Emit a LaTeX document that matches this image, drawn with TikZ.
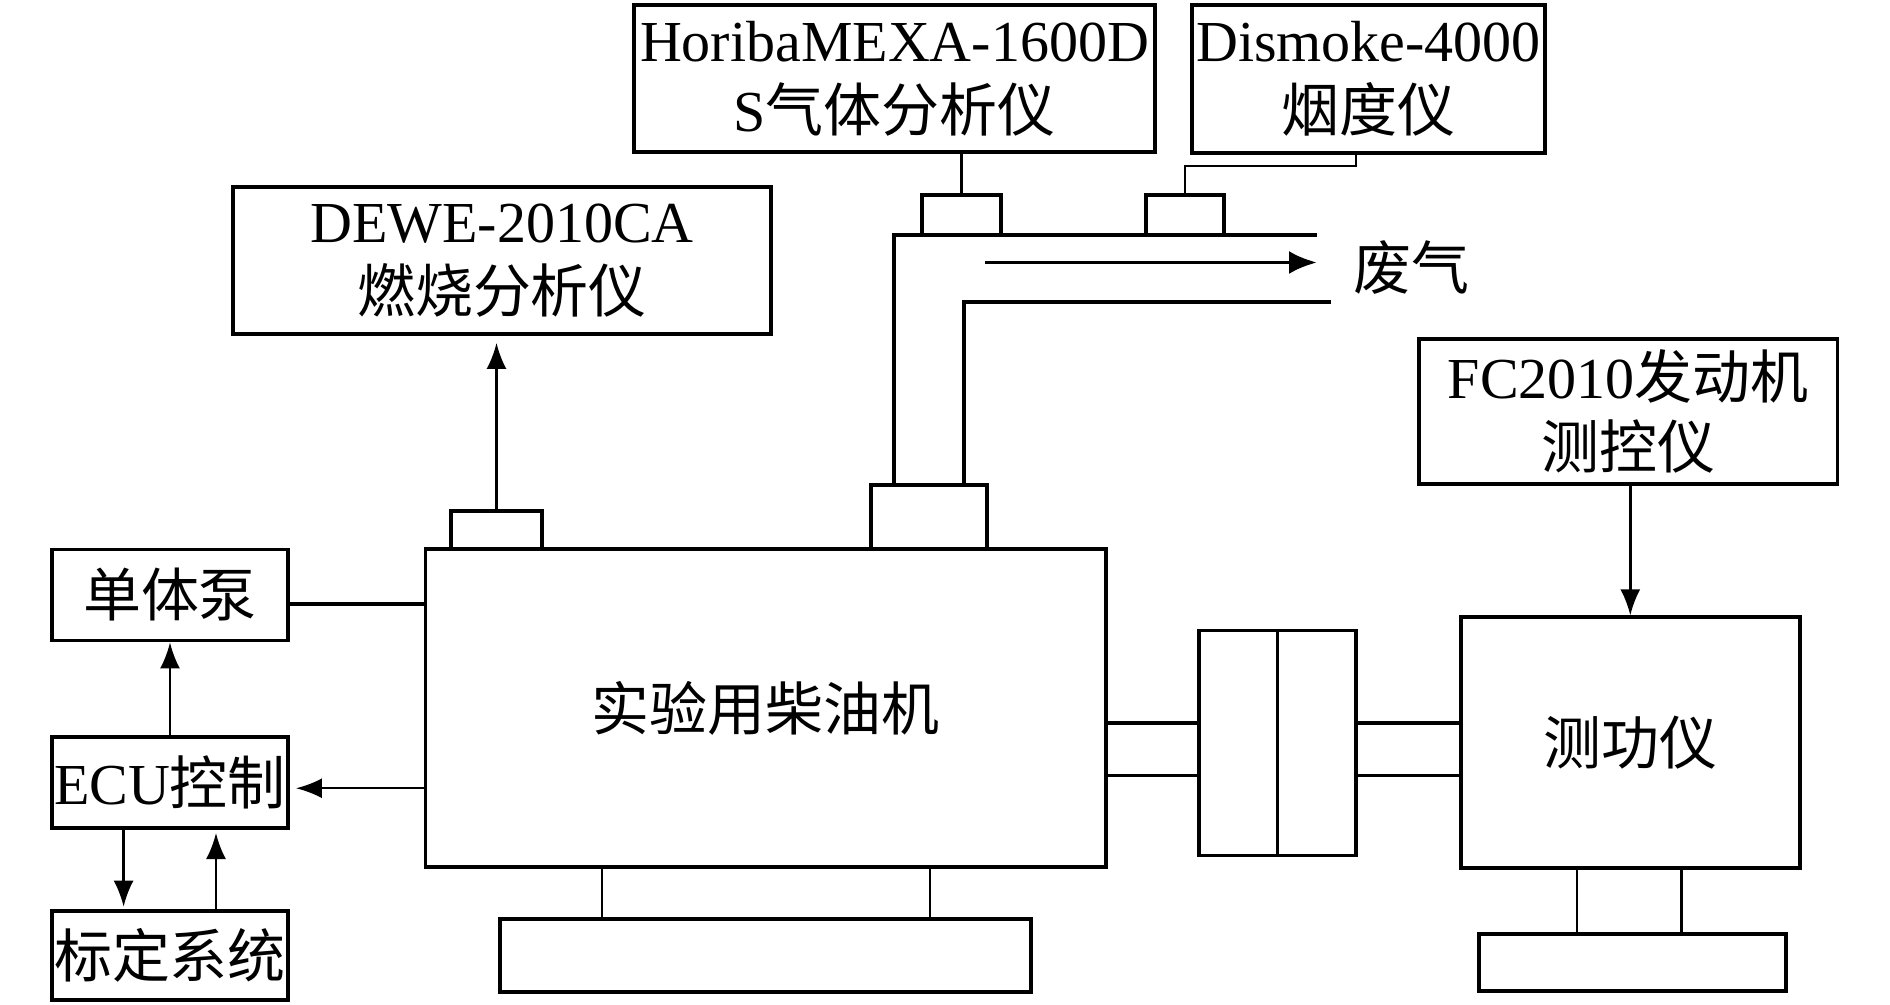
\documentclass[tikz,border=0pt]{standalone}
\usepackage{fontspec}
\setmainfont{Liberation Serif}
\newfontfamily\zhfont{Noto Sans CJK SC}
\newcommand{\zh}[1]{{\zhfont #1}}
\usepackage{tikz}
\usetikzlibrary{calc, arrows.meta, positioning}

\begin{document}
\begin{tikzpicture}[>=Latex, font=\fontsize{16.5}{20}\selectfont]
    \tikzstyle{box} = [rectangle, draw, line width=1.1pt, inner sep=0pt, align=center]
    \tikzstyle{part} = [rectangle, draw, line width=1.1pt, inner sep=0pt]
    \tikzstyle{line} = [draw, line width=0.7pt]
    \tikzstyle{wall} = [draw, line width=1.1pt]
    \tikzstyle{arrow} = [draw, line width=0.7pt, -{Latex[length=0.26cm, width=0.2cm]}]
    \tikzstyle{flow} = [draw, line width=1.1pt, -{Latex[length=0.28cm, width=0.23cm]}]

    \useasboundingbox (0,0) rectangle (18.9,10.04);

    \node [box, minimum width=5.21cm, minimum height=1.47cm] (horiba) at (8.945,9.255) {HoribaMEXA-1600D\\S\zh{气体分析仪}};
    \node [box, minimum width=3.53cm, minimum height=1.48cm] (smoke) at (13.685,9.25) {Dismoke-4000\\\zh{烟度仪}};
    \node [box, minimum width=5.38cm, minimum height=1.47cm] (dewe) at (5.02,7.435) {DEWE-2010CA\\\zh{燃烧分析仪}};
    \node [box, minimum width=4.185cm, minimum height=1.454cm] (fc) at (16.2825,5.927) {FC2010\zh{发动机}\\\zh{测控仪}};

    \node [part, minimum width=0.79cm, minimum height=0.4cm] (hsensor) at (9.615,7.89) {};
    \node [part, minimum width=0.78cm, minimum height=0.4cm] (dsensor) at (11.85,7.89) {};
    \node [part, minimum width=1.16cm, minimum height=0.64cm] (exhaust) at (9.29,4.87) {};
    \node [part, minimum width=0.91cm, minimum height=0.38cm] (csensor) at (4.965,4.74) {};

    \node [box, minimum width=6.805cm, minimum height=3.18cm] (engine) at (7.6575,2.96) {\zh{实验用柴油机}};
    \node [part, minimum width=5.31cm, minimum height=0.73cm] (base) at (7.655,0.4815) {};
    \node [part, minimum width=1.574cm, minimum height=2.25cm] (coupling) at (12.773,2.6105) {};
    \node [box, minimum width=3.394cm, minimum height=2.507cm] (dyno) at (16.303,2.6135) {\zh{测功仪}};
    \node [part, minimum width=3.07cm, minimum height=0.572cm] (dbase) at (16.325,0.413) {};

    \node [box, minimum width=2.36cm, minimum height=0.91cm] (pump) at (1.70,4.09) {\zh{单体泵}};
    \node [box, minimum width=2.36cm, minimum height=0.907cm] (ecu) at (1.70,2.2175) {ECU\zh{控制}};
    \node [box, minimum width=2.36cm, minimum height=0.894cm] (calib) at (1.70,0.487) {\zh{标定系统}};

    \node (gas) at (14.11,7.36) {\zh{废气}};

    \coordinate (pipetop) at (13.17,7.69);
    \coordinate (pipebot) at (13.31,7.02);
    \coordinate (flowin) at (9.85,7.415);
    \coordinate (shafta) at (0,2.812);
    \coordinate (shaftb) at (0,2.285);
    \coordinate (pumpout) at ($(pump.east)+(0,-0.092)$);
    \coordinate (ecuin) at ($(ecu.east)+(0.06,-0.06)$);

    \path [wall] ([xshift=0.25cm]exhaust.north west) |- (pipetop);
    \path [wall] ([xshift=-0.25cm]exhaust.north east) |- (pipebot);
    \path [flow] (flowin) -- (flowin -| pipetop);

    \path [line] (hsensor.north) -- (hsensor.north |- horiba.south);
    \path [line] (dsensor.north) -- ++(0,0.27) -| ([xshift=-0.125cm]smoke.south);
    \path [arrow, shorten >=0.07cm] (csensor.north) -- (csensor.north |- dewe.south);

    \path [line] ([xshift=-1.64cm]engine.south) -- ([xshift=-1.64cm]engine.south |- base.north);
    \path [line] ([xshift=1.645cm]engine.south) -- ([xshift=1.645cm]engine.south |- base.north);
    \path [line] (coupling.north) -- (coupling.south);
    \path [wall] (engine.east |- shafta) -- (coupling.west |- shafta);
    \path [wall] (engine.east |- shaftb) -- (coupling.west |- shaftb);
    \path [wall] (coupling.east |- shafta) -- (dyno.west |- shafta);
    \path [wall] (coupling.east |- shaftb) -- (dyno.west |- shaftb);
    \path [line] ([xshift=-0.533cm]dyno.south) -- ([xshift=-0.533cm]dyno.south |- dbase.north);
    \path [line] ([xshift=0.513cm]dyno.south) -- ([xshift=0.513cm]dyno.south |- dbase.north);
    \path [arrow] (fc.south -| dyno.north) -- (dyno.north);

    \path [wall] (pumpout) -- (engine.west |- pumpout);
    \path [arrow] (engine.west |- ecuin) -- (ecuin);
    \path [arrow] (ecu.north) -- (pump.south);
    \path [arrow, shorten >=0.02cm] ([xshift=-0.464cm]ecu.south) -- ([xshift=-0.464cm]calib.north);
    \path [arrow, shorten >=0.035cm] ([xshift=0.46cm]calib.north) -- ([xshift=0.46cm]ecu.south);
\end{tikzpicture}
\end{document}
